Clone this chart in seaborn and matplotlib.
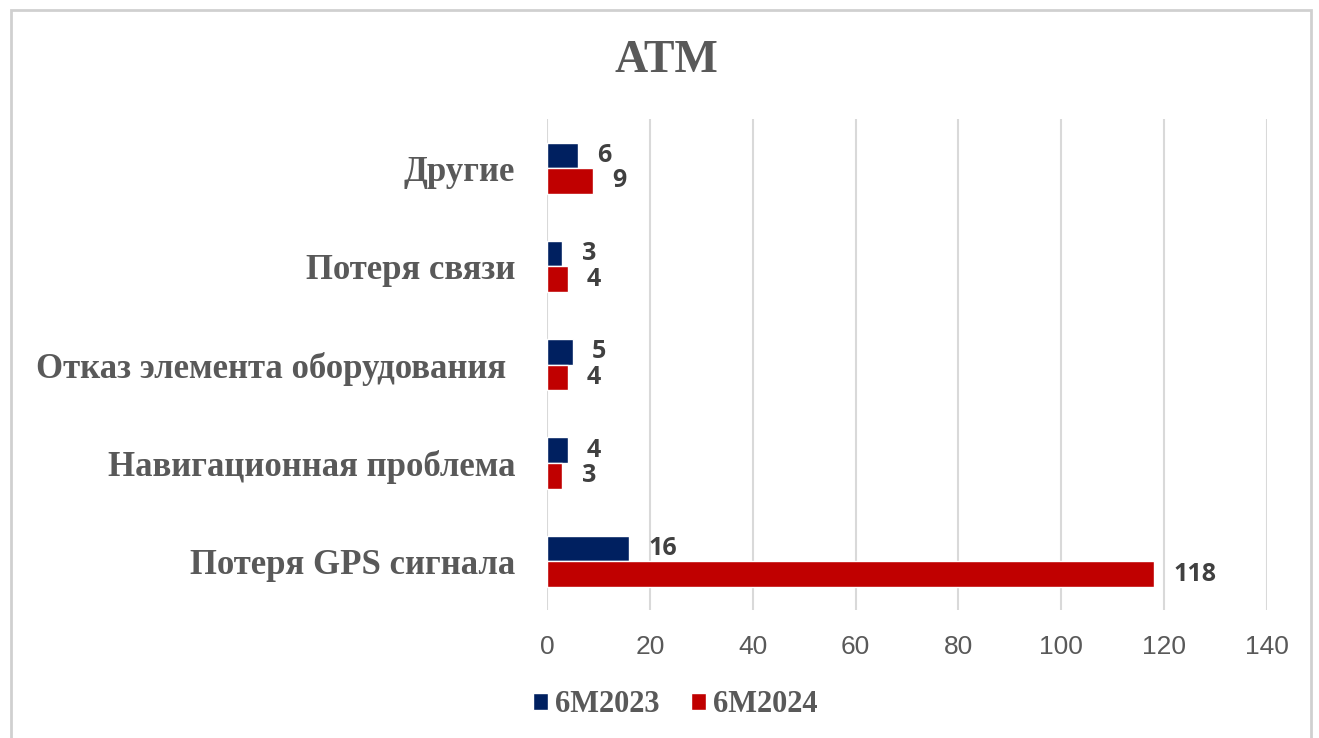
import pandas as pd
import matplotlib.pyplot as plt
import seaborn as sns
from matplotlib.patches import Rectangle

categories = ['Другие', 'Потеря связи', 'Отказ элемента оборудования ',
              'Навигационная проблема', 'Потеря GPS сигнала']
vals_2023 = [6, 3, 5, 4, 16]
vals_2024 = [9, 4, 4, 3, 118]
series = ['6M2023', '6M2024']
x_ticks = [0, 20, 40, 60, 80, 100, 120, 140]

df = pd.DataFrame({
    'cat': categories * 2,
    'val': vals_2023 + vals_2024,
    'period': [series[0]] * len(categories) + [series[1]] * len(categories),
})

sns.set_theme(style='white')
serif = ['Liberation Serif', 'DejaVu Serif']
narrow = ['Liberation Sans Narrow', 'Liberation Sans', 'DejaVu Sans']
plt.rcParams['font.family'] = ['Open Sans', 'DejaVu Sans']

fig = plt.figure(figsize=(13.19, 7.38), dpi=100)
ax = fig.add_axes([0.4147, 0.1728, 0.5459, 0.666])

colors = ['#002060', '#C00000']
sns.barplot(data=df, y='cat', x='val', hue='period', palette=colors,
            orient='h', width=0.52, saturation=1, ax=ax, legend=True)

for cont in ax.containers:
    ax.bar_label(cont, padding=14, fontsize=18, fontweight='bold', color='#404040')

ax.set_xlim(0, 140)
ax.set_xticks(x_ticks)
ax.set_xticklabels([str(t) for t in x_ticks], family=narrow, fontsize=19, color='#595959')
ax.set_yticklabels(ax.get_yticklabels(), family=serif, fontsize=25,
                   fontweight='bold', color='#595959')
ax.tick_params(axis='y', length=0, pad=23)
ax.tick_params(axis='x', length=0, pad=18)
ax.xaxis.grid(True, color='#d9d9d9', linewidth=1.5)
ax.set_axisbelow(True)
for s in ax.spines.values():
    s.set_visible(False)
ax.set_xlabel('')
ax.set_ylabel('')

ax.legend_.remove()
handles, labels = ax.get_legend_handles_labels()
fig.legend(handles[:2], series, loc='center', bbox_to_anchor=(0.512, 0.045), ncol=2,
           frameon=False, prop={'family': serif, 'size': 22, 'weight': 'bold'},
           labelcolor='#595959', handlelength=0.5, handleheight=0.5,
           handletextpad=0.25, columnspacing=1.0)

fig.text(0.505, 0.918, 'ATM', ha='center', va='center', family=serif,
         fontsize=33, fontweight='bold', color='#595959')

fig.patches.append(Rectangle((0.008, -0.01), 0.986, 0.997, transform=fig.transFigure,
                             fill=False, edgecolor='#d0d0d0', linewidth=2))

plt.savefig('out.png', dpi=100)
